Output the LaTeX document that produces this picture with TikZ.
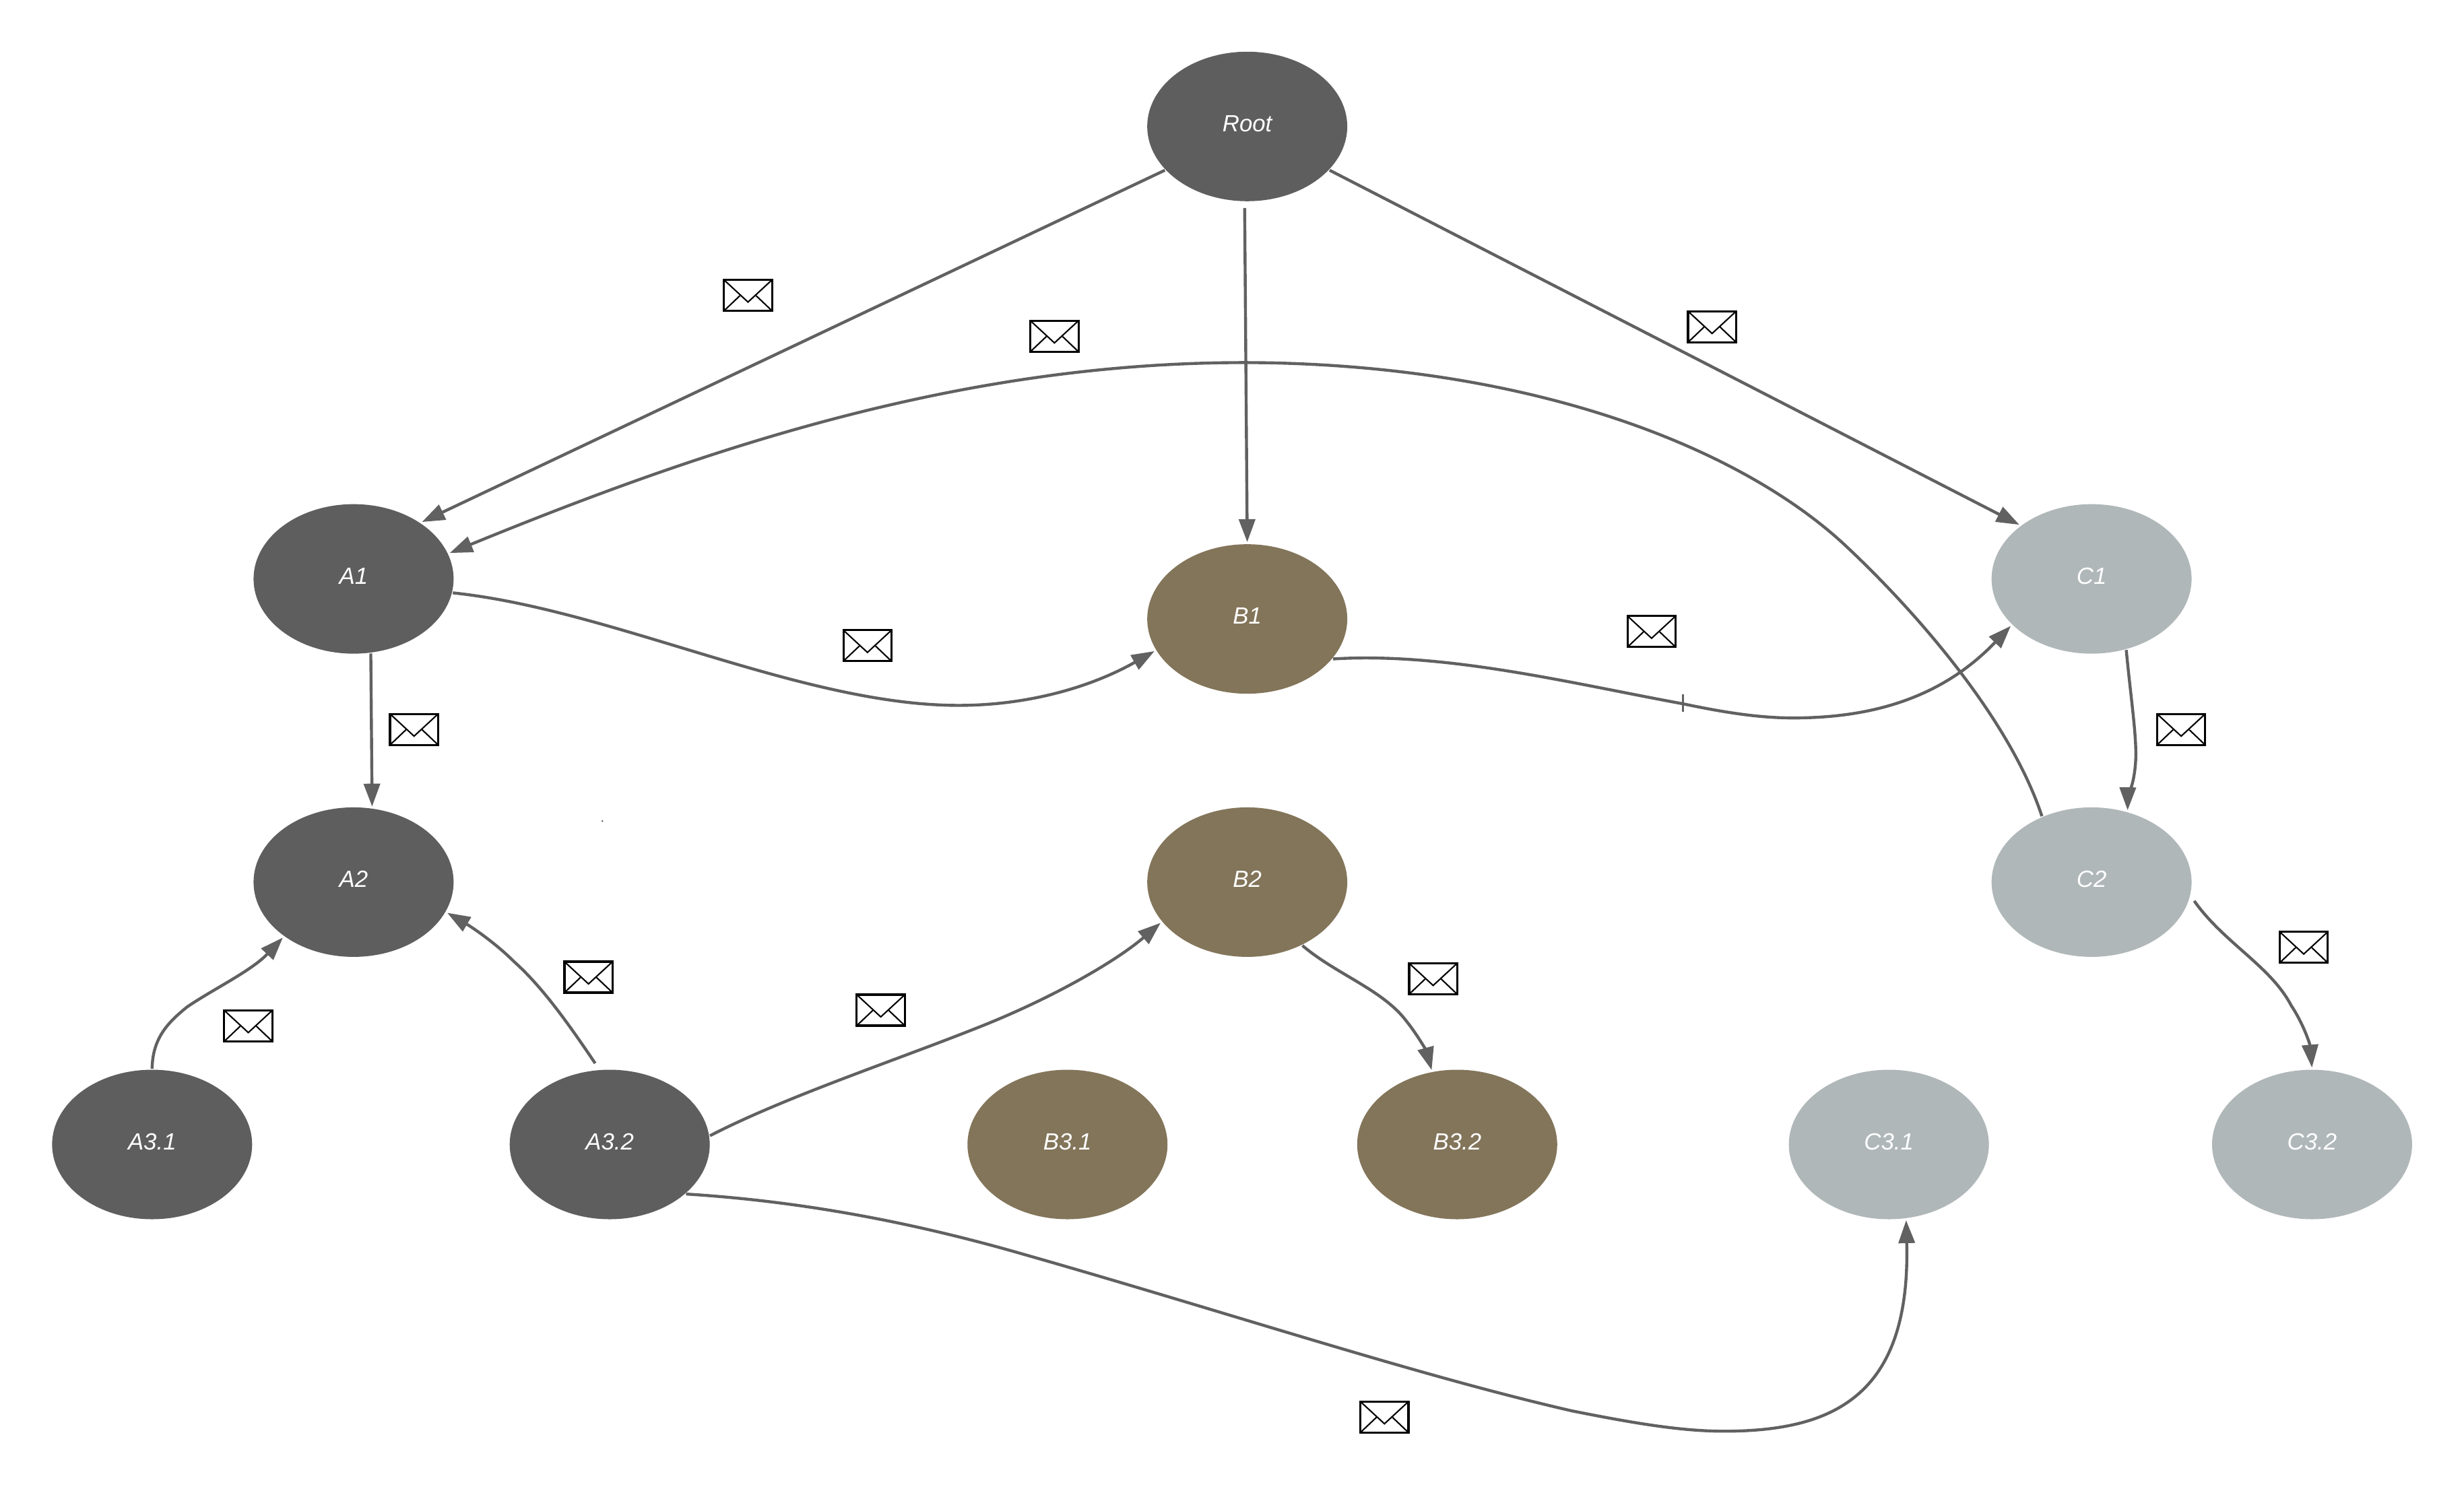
\documentclass[tikz,border=0pt]{standalone}
\usepackage{fontspec}
\setmainfont{Liberation Sans}
\usetikzlibrary{arrows.meta,shapes.geometric}
\definecolor{darkn}{HTML}{5E5E5E}
\definecolor{brownn}{HTML}{83755A}
\definecolor{greyn}{HTML}{B0B7B8}
\definecolor{linec}{HTML}{616161}
\tikzset{
  base/.style={ellipse,minimum width=2.97cm,minimum height=2.22cm,inner sep=0pt,outer sep=0.4pt,text=white,font=\fontsize{9.9pt}{12pt}\selectfont\itshape},
  dk/.style={base,fill=darkn},
  br/.style={base,fill=brownn},
  gy/.style={base,fill=greyn},
  conn/.style={draw=linec,line width=1.25pt,shorten >=0.5pt,-{Triangle[length=3.4mm,width=2.4mm]}},
  envelope/.pic={
    \draw[black,line width=0.9pt,fill=white] (-.357cm,-.23cm) rectangle (.357cm,.23cm);
    \draw[black,line width=0.6pt] (-.357cm,.23cm) -- (0cm,-.10cm) -- (.357cm,.23cm);
    \draw[black,line width=0.6pt] (-.357cm,-.23cm) -- (-.12cm,-.005cm);
    \draw[black,line width=0.6pt] (.357cm,-.23cm) -- (.12cm,-.005cm);
  }
}
\begin{document}
\begin{tikzpicture}[x=0.023329cm,y=-0.023329cm]
\useasboundingbox (0,0) rectangle (1568,952.5);
\node[dk] (root) at (793.7,80.5) {\raisebox{2.5pt}{Root}};
\node[dk] (a1) at (225,368.5) {\raisebox{2.5pt}{A1}};
\node[br] (b1) at (793.7,394) {\raisebox{2.5pt}{B1}};
\node[gy] (c1) at (1331,368.5) {\raisebox{2.5pt}{C1}};
\node[dk] (a2) at (225,561.5) {\raisebox{2.5pt}{A2}};
\node[br] (b2) at (793.7,561.5) {\raisebox{2.5pt}{B2}};
\node[gy] (c2) at (1331,561.5) {\raisebox{2.5pt}{C2}};
\node[dk] (a31) at (96.8,728.5) {\raisebox{2.5pt}{A3.1}};
\node[dk] (a32) at (388,728.5) {\raisebox{2.5pt}{A3.2}};
\node[br] (b31) at (679.3,728.5) {\raisebox{2.5pt}{B3.1}};
\node[br] (b32) at (927.3,728.5) {\raisebox{2.5pt}{B3.2}};
\node[gy] (c31) at (1202,728.5) {\raisebox{2.5pt}{C3.1}};
\node[gy] (c32) at (1471.3,728.5) {\raisebox{2.5pt}{C3.2}};

\draw[conn] (root.208) -- (a1.40);
\draw[conn,shorten <=2.5pt] (root.268) -- (b1.90);
\draw[conn] (root.332) -- (c1.143);
\draw[conn] (c2.127) .. controls (1278,455) and (1215,385) .. (1173,346)
  .. controls (1110,288) and (985,235) .. (810,231)
  .. controls (620,227) and (450,285) .. (a1.15);
\draw[conn] (a1.-8.6) .. controls (390,388) and (510,449) .. (610,449)
  .. controls (655,449) and (695,437) .. (b1.199.6);
\draw[conn] (b1.-25.7) .. controls (920,415) and (1000,435) .. (1071,448)
  .. controls (1095,453) and (1118,457) .. (1141,457)
  .. controls (1190,457) and (1235,445) .. (c1.210.9);
\draw[conn] (c1.-64) .. controls (1356,445) and (1360,470) .. (1359,485)
  .. controls (1358,500) and (1354,508) .. (c2.63.2);
\draw[conn,shorten <=2.5pt] (c2.-8) .. controls (1415,600) and (1445,615) .. (1458,640)
  .. controls (1466,652) and (1470,665) .. (c32.90);
\draw[conn] (b2.-49) .. controls (850,620) and (880,630) .. (895,650)
  .. controls (903,660) and (908,670) .. (b32.109);
\draw[conn] (a1.283) -- (a2.76);
\draw[conn] (a31.90) .. controls (97,660) and (108,650) .. (119,641)
  .. controls (135,630) and (160,618) .. (a2.218.3);
\draw[conn,shorten <=3pt] (a32.98.7) .. controls (362,652) and (345,628) .. (327,612)
  .. controls (315,600) and (300,590) .. (a2.-18);
\draw[conn] (a32.5.9) .. controls (500,698) and (570,675) .. (625,653)
  .. controls (670,635) and (710,612) .. (b2.205.3);
\draw[conn] (a32.-33.6) .. controls (500,764) and (570,775) .. (650,798)
  .. controls (780,835) and (900,875) .. (1000,898)
  .. controls (1040,906) and (1070,911) .. (1097,911)
  .. controls (1165,911) and (1216,890) .. (c31.283.6);
\draw[linec,line width=1pt] (1071,442) -- (1071,453);
\fill[darkn] (383.3,522.6) circle (0.6);
\foreach \ex/\ey in {476/188,671/214,1089.5/208,552/411,263.5/464.3,1051/402,1388/464.3,374.5/622,158/653,560.5/643,912/623,1466/603,881/902}
  \pic at (\ex,\ey) {envelope};
\end{tikzpicture}
\end{document}
